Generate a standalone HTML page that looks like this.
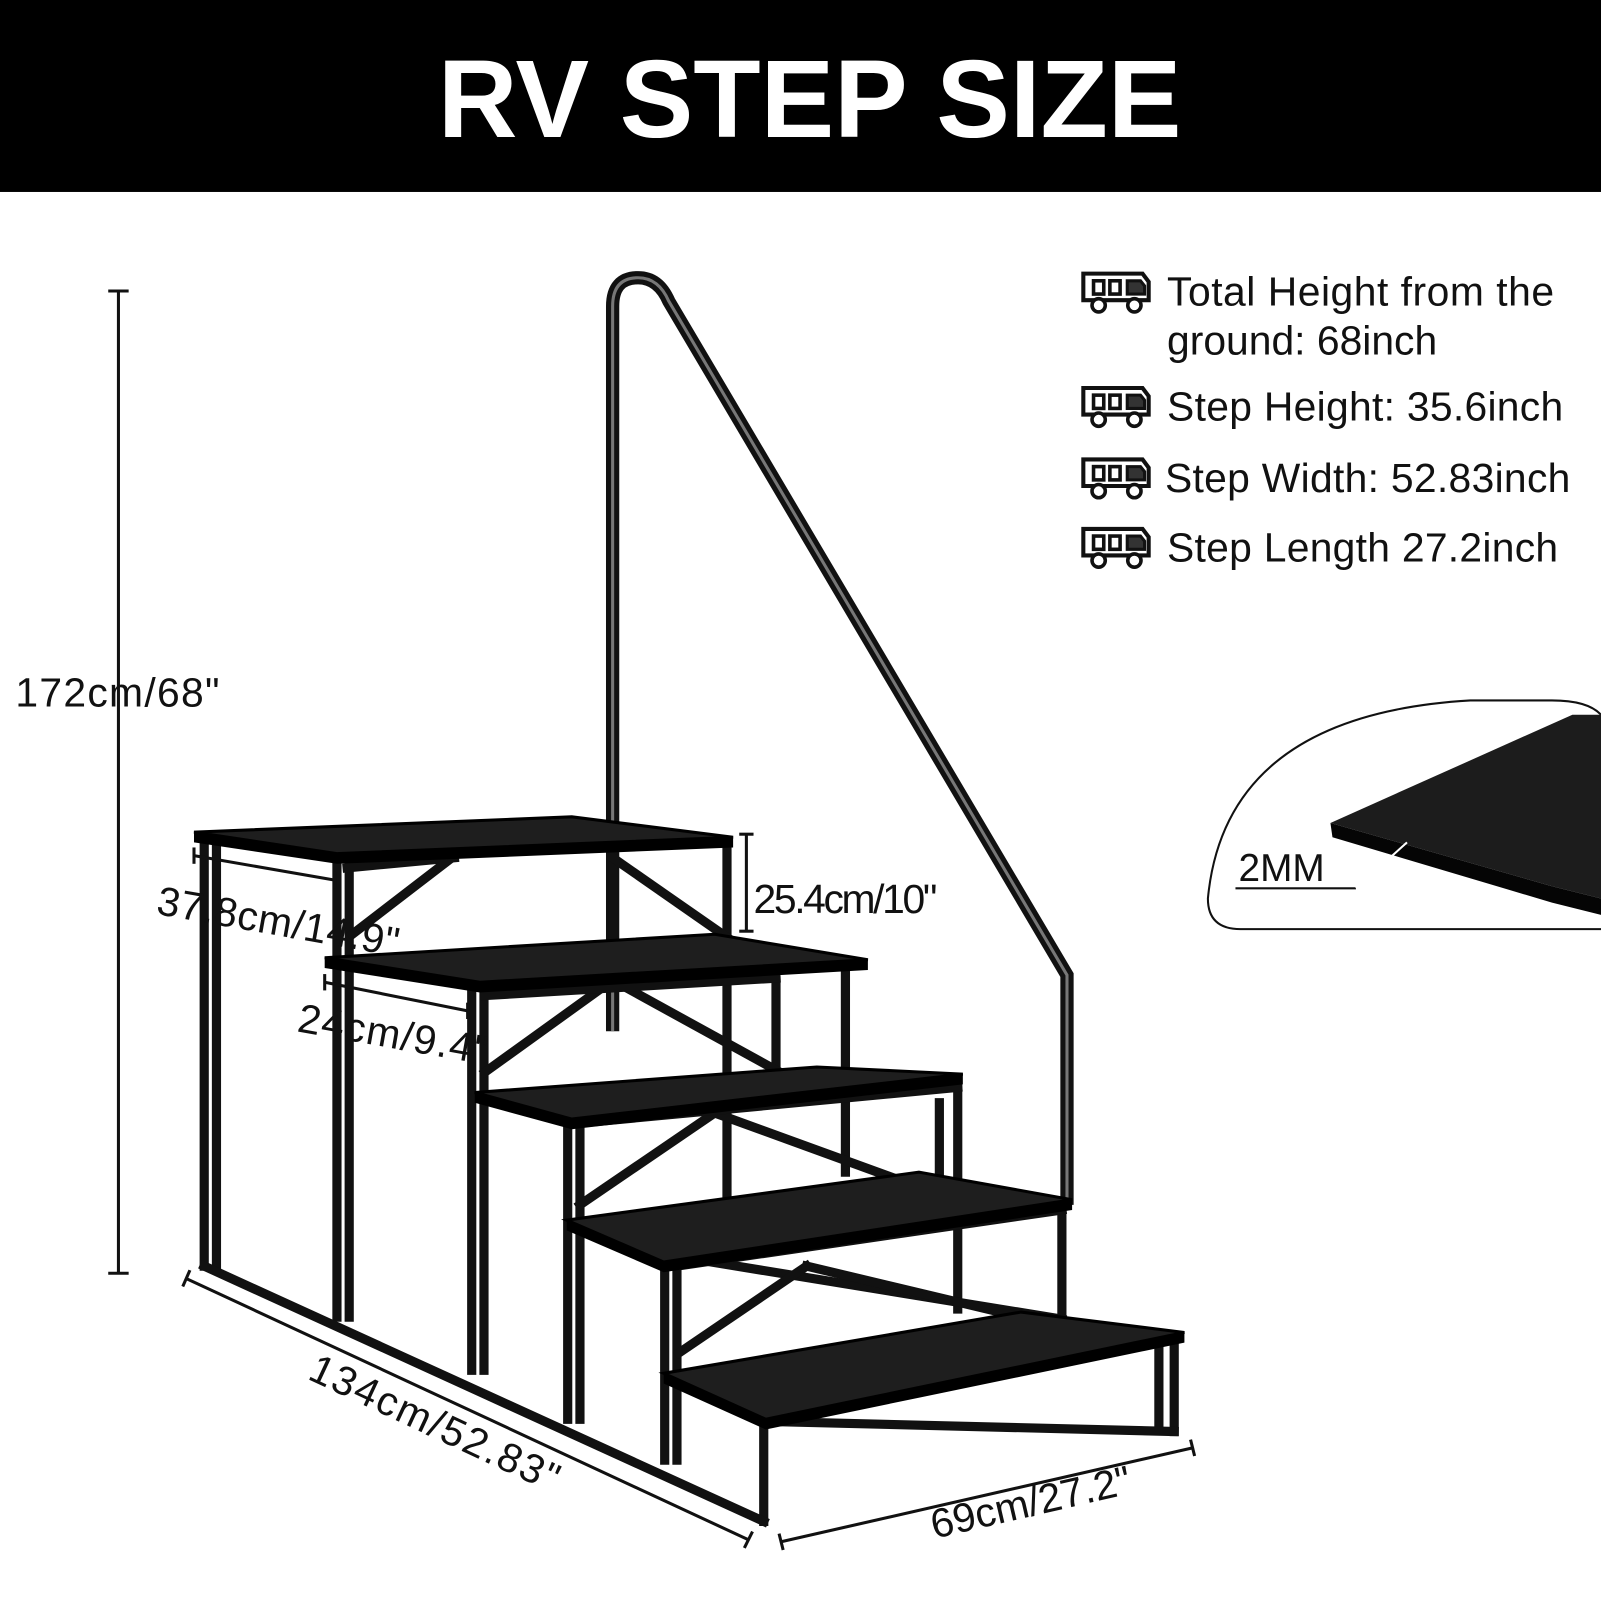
<!DOCTYPE html>
<html><head><meta charset="utf-8"><style>
html,body{margin:0;padding:0;background:#fff;}
svg{display:block;}
text{font-family:"Liberation Sans",sans-serif;}
</style></head><body>
<svg width="1601" height="1601" viewBox="0 0 1568 1568" xmlns="http://www.w3.org/2000/svg">
<defs>
<g id="rv">
<path d="M0,0 H58 L64,8 V26 H0 Z" fill="none" stroke="#111" stroke-width="4"/>
<rect x="10" y="7" width="10" height="13" fill="none" stroke="#111" stroke-width="3.5"/>
<rect x="26" y="7" width="10" height="13" fill="none" stroke="#111" stroke-width="3.5"/>
<path d="M43,7 H56 L60,12 V20 H43 Z" fill="#333" stroke="#111" stroke-width="3"/>
<circle cx="15" cy="31" r="6.5" fill="#fff" stroke="#111" stroke-width="3.5"/>
<circle cx="50" cy="31" r="6.5" fill="#fff" stroke="#111" stroke-width="3.5"/>
</g>
</defs>
<rect x="0" y="0" width="1568" height="188" fill="#000"/>
<text x="793" y="134" fill="#fff" font-size="108" font-weight="bold" text-anchor="middle">RV STEP SIZE</text>

<use href="#rv" x="1061" y="268"/>
<use href="#rv" x="1061" y="380"/>
<use href="#rv" x="1061" y="450"/>
<use href="#rv" x="1061" y="518"/>
<g font-size="40" fill="#111">
<text x="1143" y="299" textLength="379">Total Height from the</text>
<text x="1143" y="347">ground: 68inch</text>
<text x="1143" y="412" textLength="388">Step Height: 35.6inch</text>
<text x="1141" y="482" textLength="397">Step Width: 52.83inch</text>
<text x="1143" y="550" textLength="383">Step Length 27.2inch</text>
</g>

<path d="M1568,700 Q1555,686 1520,686 L1440,686 Q1200,700 1183,880 Q1183,910 1215,910 L1568,910" fill="none" stroke="#111" stroke-width="2"/>
<polygon points="1303,806 1540,700 1568,700 1568,880 1520,868" fill="#1c1c1c"/>
<polygon points="1303,806 1520,868 1568,880 1568,896 1520,884 1305,820" fill="#050505"/>
<line x1="1210" y1="870" x2="1328" y2="870" stroke="#111" stroke-width="2"/>
<line x1="1328" y1="870" x2="1378" y2="825" stroke="#fff" stroke-width="2"/>
<text x="1213" y="863" font-size="38" fill="#111">2MM</text>

<path d="M600,1010 V300 Q600,272 625,272 Q645,272 655,295 L1045,955 V1180" fill="none" stroke="#111" stroke-width="13"/>
<path d="M600,1010 V300 Q600,272 625,272 Q645,272 655,295 L1045,955 V1180" fill="none" stroke="#777" stroke-width="3"/>

<g stroke="#111" stroke-width="9" fill="none" stroke-linecap="square">
<line x1="200" y1="820" x2="200" y2="1240"/>
<line x1="212" y1="825" x2="212" y2="1240"/>
<line x1="330" y1="838" x2="330" y2="1290"/>
<line x1="342" y1="838" x2="342" y2="1290"/>
<line x1="462" y1="962" x2="462" y2="1342"/>
<line x1="474" y1="962" x2="474" y2="1342"/>
<line x1="556" y1="1095" x2="556" y2="1390"/>
<line x1="568" y1="1095" x2="568" y2="1390"/>
<line x1="651" y1="1235" x2="651" y2="1430"/>
<line x1="663" y1="1235" x2="663" y2="1430"/>
<line x1="748" y1="1392" x2="748" y2="1490"/>
<line x1="712" y1="826" x2="712" y2="915"/>
<line x1="600" y1="838" x2="600" y2="925"/>
<line x1="712" y1="960" x2="712" y2="1175"/>
<line x1="828" y1="945" x2="828" y2="1148"/>
<line x1="760" y1="960" x2="760" y2="1050"/>
<line x1="938" y1="1058" x2="938" y2="1282"/>
<line x1="920" y1="1080" x2="920" y2="1170"/>
<line x1="1040" y1="1180" x2="1040" y2="1292"/>
<line x1="1150" y1="1310" x2="1150" y2="1402"/>
<line x1="1135" y1="1320" x2="1135" y2="1400"/>
<line x1="200" y1="1240" x2="748" y2="1490"/>
<line x1="748" y1="1392" x2="1150" y2="1402"/>
<line x1="660" y1="1230" x2="1040" y2="1292"/>
<line x1="340" y1="850" x2="445" y2="840"/>
<line x1="345" y1="915" x2="440" y2="842"/>
<line x1="600" y1="840" x2="712" y2="918"/>
<line x1="475" y1="1050" x2="600" y2="960"/>
<line x1="600" y1="960" x2="760" y2="1048"/>
<line x1="568" y1="1180" x2="700" y2="1090"/>
<line x1="700" y1="1090" x2="920" y2="1170"/>
<line x1="665" y1="1325" x2="790" y2="1240"/>
<line x1="790" y1="1240" x2="1000" y2="1290"/>
<line x1="475" y1="975" x2="760" y2="958"/>
<line x1="568" y1="1100" x2="938" y2="1065"/>
<line x1="663" y1="1240" x2="1040" y2="1185"/>
</g>
<g fill="#1e1e1e" stroke="#000" stroke-width="3">
<polygon points="190,815 560,800 718,820 330,836"/>
<polygon points="318,938 700,915 850,940 470,962"/>
<polygon points="465,1070 800,1045 943,1052 560,1096"/>
<polygon points="555,1195 900,1148 1050,1175 650,1236"/>
<polygon points="650,1345 1000,1285 1160,1305 750,1390"/>
</g>
<g fill="#000">
<polygon points="190,815 330,836 718,820 718,830 330,846 190,825"/>
<polygon points="318,938 470,962 850,940 850,950 470,972 318,948"/>
<polygon points="465,1070 560,1096 943,1052 943,1062 560,1106 465,1080"/>
<polygon points="555,1195 650,1236 1050,1175 1050,1185 650,1246 555,1205"/>
<polygon points="650,1345 750,1390 1160,1305 1160,1315 750,1400 650,1355"/>
</g>

<g stroke="#111" stroke-width="3" fill="none">
<line x1="116" y1="285" x2="116" y2="1247"/>
<line x1="106" y1="285" x2="126" y2="285"/>
<line x1="106" y1="1247" x2="126" y2="1247"/>
<line x1="731" y1="817" x2="731" y2="912"/>
<line x1="724" y1="817" x2="738" y2="817"/>
<line x1="724" y1="912" x2="738" y2="912"/>
<line x1="190" y1="838" x2="328" y2="862"/>
<line x1="190" y1="830" x2="190" y2="846"/>
<line x1="328" y1="854" x2="328" y2="870"/>
<line x1="318" y1="962" x2="458" y2="990"/>
<line x1="318" y1="954" x2="318" y2="970"/>
<line x1="458" y1="982" x2="458" y2="998"/>
<line x1="182" y1="1252" x2="733" y2="1508"/>
<line x1="186" y1="1244" x2="179" y2="1260"/>
<line x1="737" y1="1500" x2="729" y2="1516"/>
<line x1="765" y1="1510" x2="1168" y2="1418"/>
<line x1="763" y1="1502" x2="767" y2="1518"/>
<line x1="1166" y1="1410" x2="1170" y2="1426"/>
</g>
<g font-size="40" fill="#111">
<text x="15" y="692" textLength="200">172cm/68"</text>
<text x="738" y="894" textLength="180">25.4cm/10"</text>
<text x="152" y="895" transform="rotate(10 152 895)" textLength="240">37.8cm/14.9"</text>
<text x="290" y="1010" transform="rotate(10 290 1010)" textLength="188">24cm/9.4"</text>
<text x="300" y="1350" transform="rotate(25 300 1350)" textLength="265">134cm/52.83"</text>
<text x="915" y="1507" transform="rotate(-13 915 1507)" textLength="200">69cm/27.2"</text>
</g>
</svg>
</body></html>
